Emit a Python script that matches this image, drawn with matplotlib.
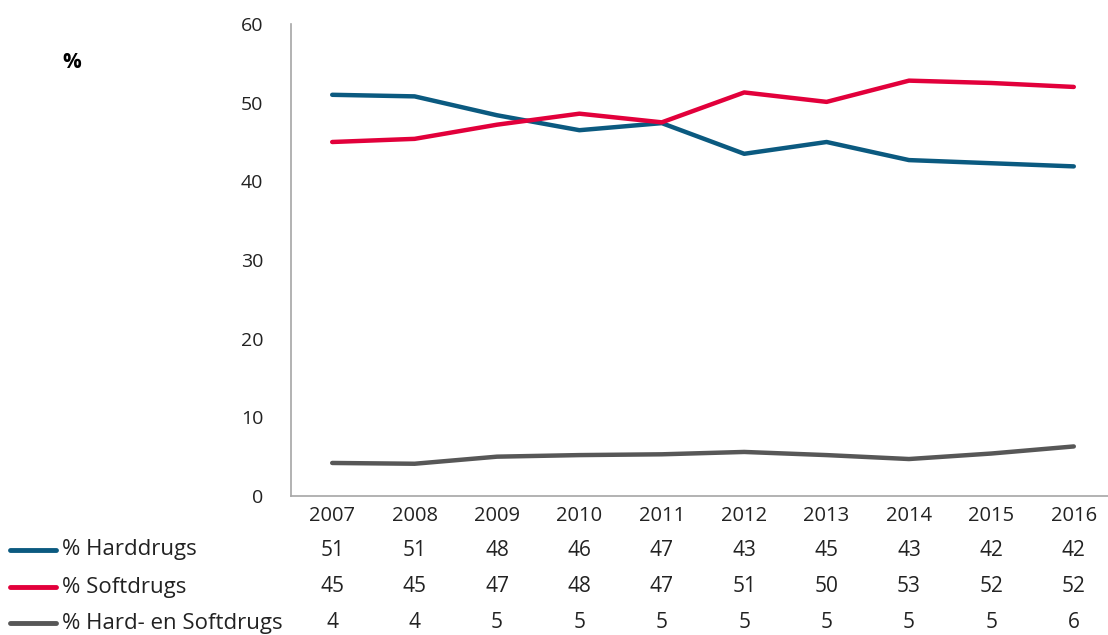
import matplotlib.pyplot as plt
import numpy as np

plt.rcParams['font.family'] = ['Open Sans', 'DejaVu Sans']

years = ['2007', '2008', '2009', '2010', '2011', '2012', '2013', '2014', '2015', '2016']
harddrugs = [51.0, 50.8, 48.4, 46.5, 47.4, 43.5, 45.0, 42.7, 42.3, 41.9]
softdrugs = [45.0, 45.4, 47.2, 48.6, 47.5, 51.3, 50.1, 52.8, 52.5, 52.0]
beide = [4.2, 4.1, 5.0, 5.2, 5.3, 5.6, 5.2, 4.7, 5.4, 6.3]
# afgeronde waarden zoals in de tabel
tab_hard = [51, 51, 48, 46, 47, 43, 45, 43, 42, 42]
tab_soft = [45, 45, 47, 48, 47, 51, 50, 53, 52, 52]
tab_beide = [4, 4, 5, 5, 5, 5, 5, 5, 5, 6]
labels = ['% Harddrugs', '% Softdrugs', '% Hard- en Softdrugs']
colors = ['#0b5a80', '#e2003b', '#575757']

W, H = 1108, 635
fig = plt.figure(figsize=(W / 100, H / 100), dpi=100)
ax = fig.add_axes([291 / W, 1 - 496 / H, 824 / W, 472 / H])

x = np.arange(len(years))
for vals, c in zip([harddrugs, softdrugs, beide], colors):
    ax.plot(x, vals, color=c, lw=3.2, solid_capstyle='round', solid_joinstyle='round')

ax.set_xlim(-0.5, len(years) - 0.5)
ax.set_ylim(0, 60)
ax.set_yticks(range(0, 61, 10))
ax.tick_params(axis='y', length=0, pad=20, labelsize=14, colors='#222222')
ax.set_xticks([])
for s in ['top', 'right']:
    ax.spines[s].set_visible(False)
for s in ['left', 'bottom']:
    ax.spines[s].set_color('#a6a6a6')
    ax.spines[s].set_linewidth(1.2)

fig.text(72 / W, 1 - 62 / H, '%', fontsize=15, fontweight='bold', ha='center', va='center')

# tabel onder de grafiek
row_y = [516, 550, 587, 623]
for i, yr in enumerate(years):
    xpix = ax.transData.transform((i, 0))[0]
    fig.text(xpix / W, 1 - row_y[0] / H, yr, ha='center', va='center', fontsize=14.5, color='#222222')
for r, (vals, lab, c) in enumerate(zip([tab_hard, tab_soft, tab_beide], labels, colors)):
    yy = 1 - row_y[r + 1] / H
    fig.add_artist(plt.Line2D([10 / W, 56 / W], [yy, yy], color=c, lw=3.5, solid_capstyle='round'))
    fig.text(62 / W, yy, lab, ha='left', va='center', fontsize=16, color='#222222')
    for i, v in enumerate(vals):
        xpix = ax.transData.transform((i, 0))[0]
        fig.text(xpix / W, yy, str(v), ha='center', va='center', fontsize=15, color='#222222')

fig.savefig('out.png', dpi=100)
